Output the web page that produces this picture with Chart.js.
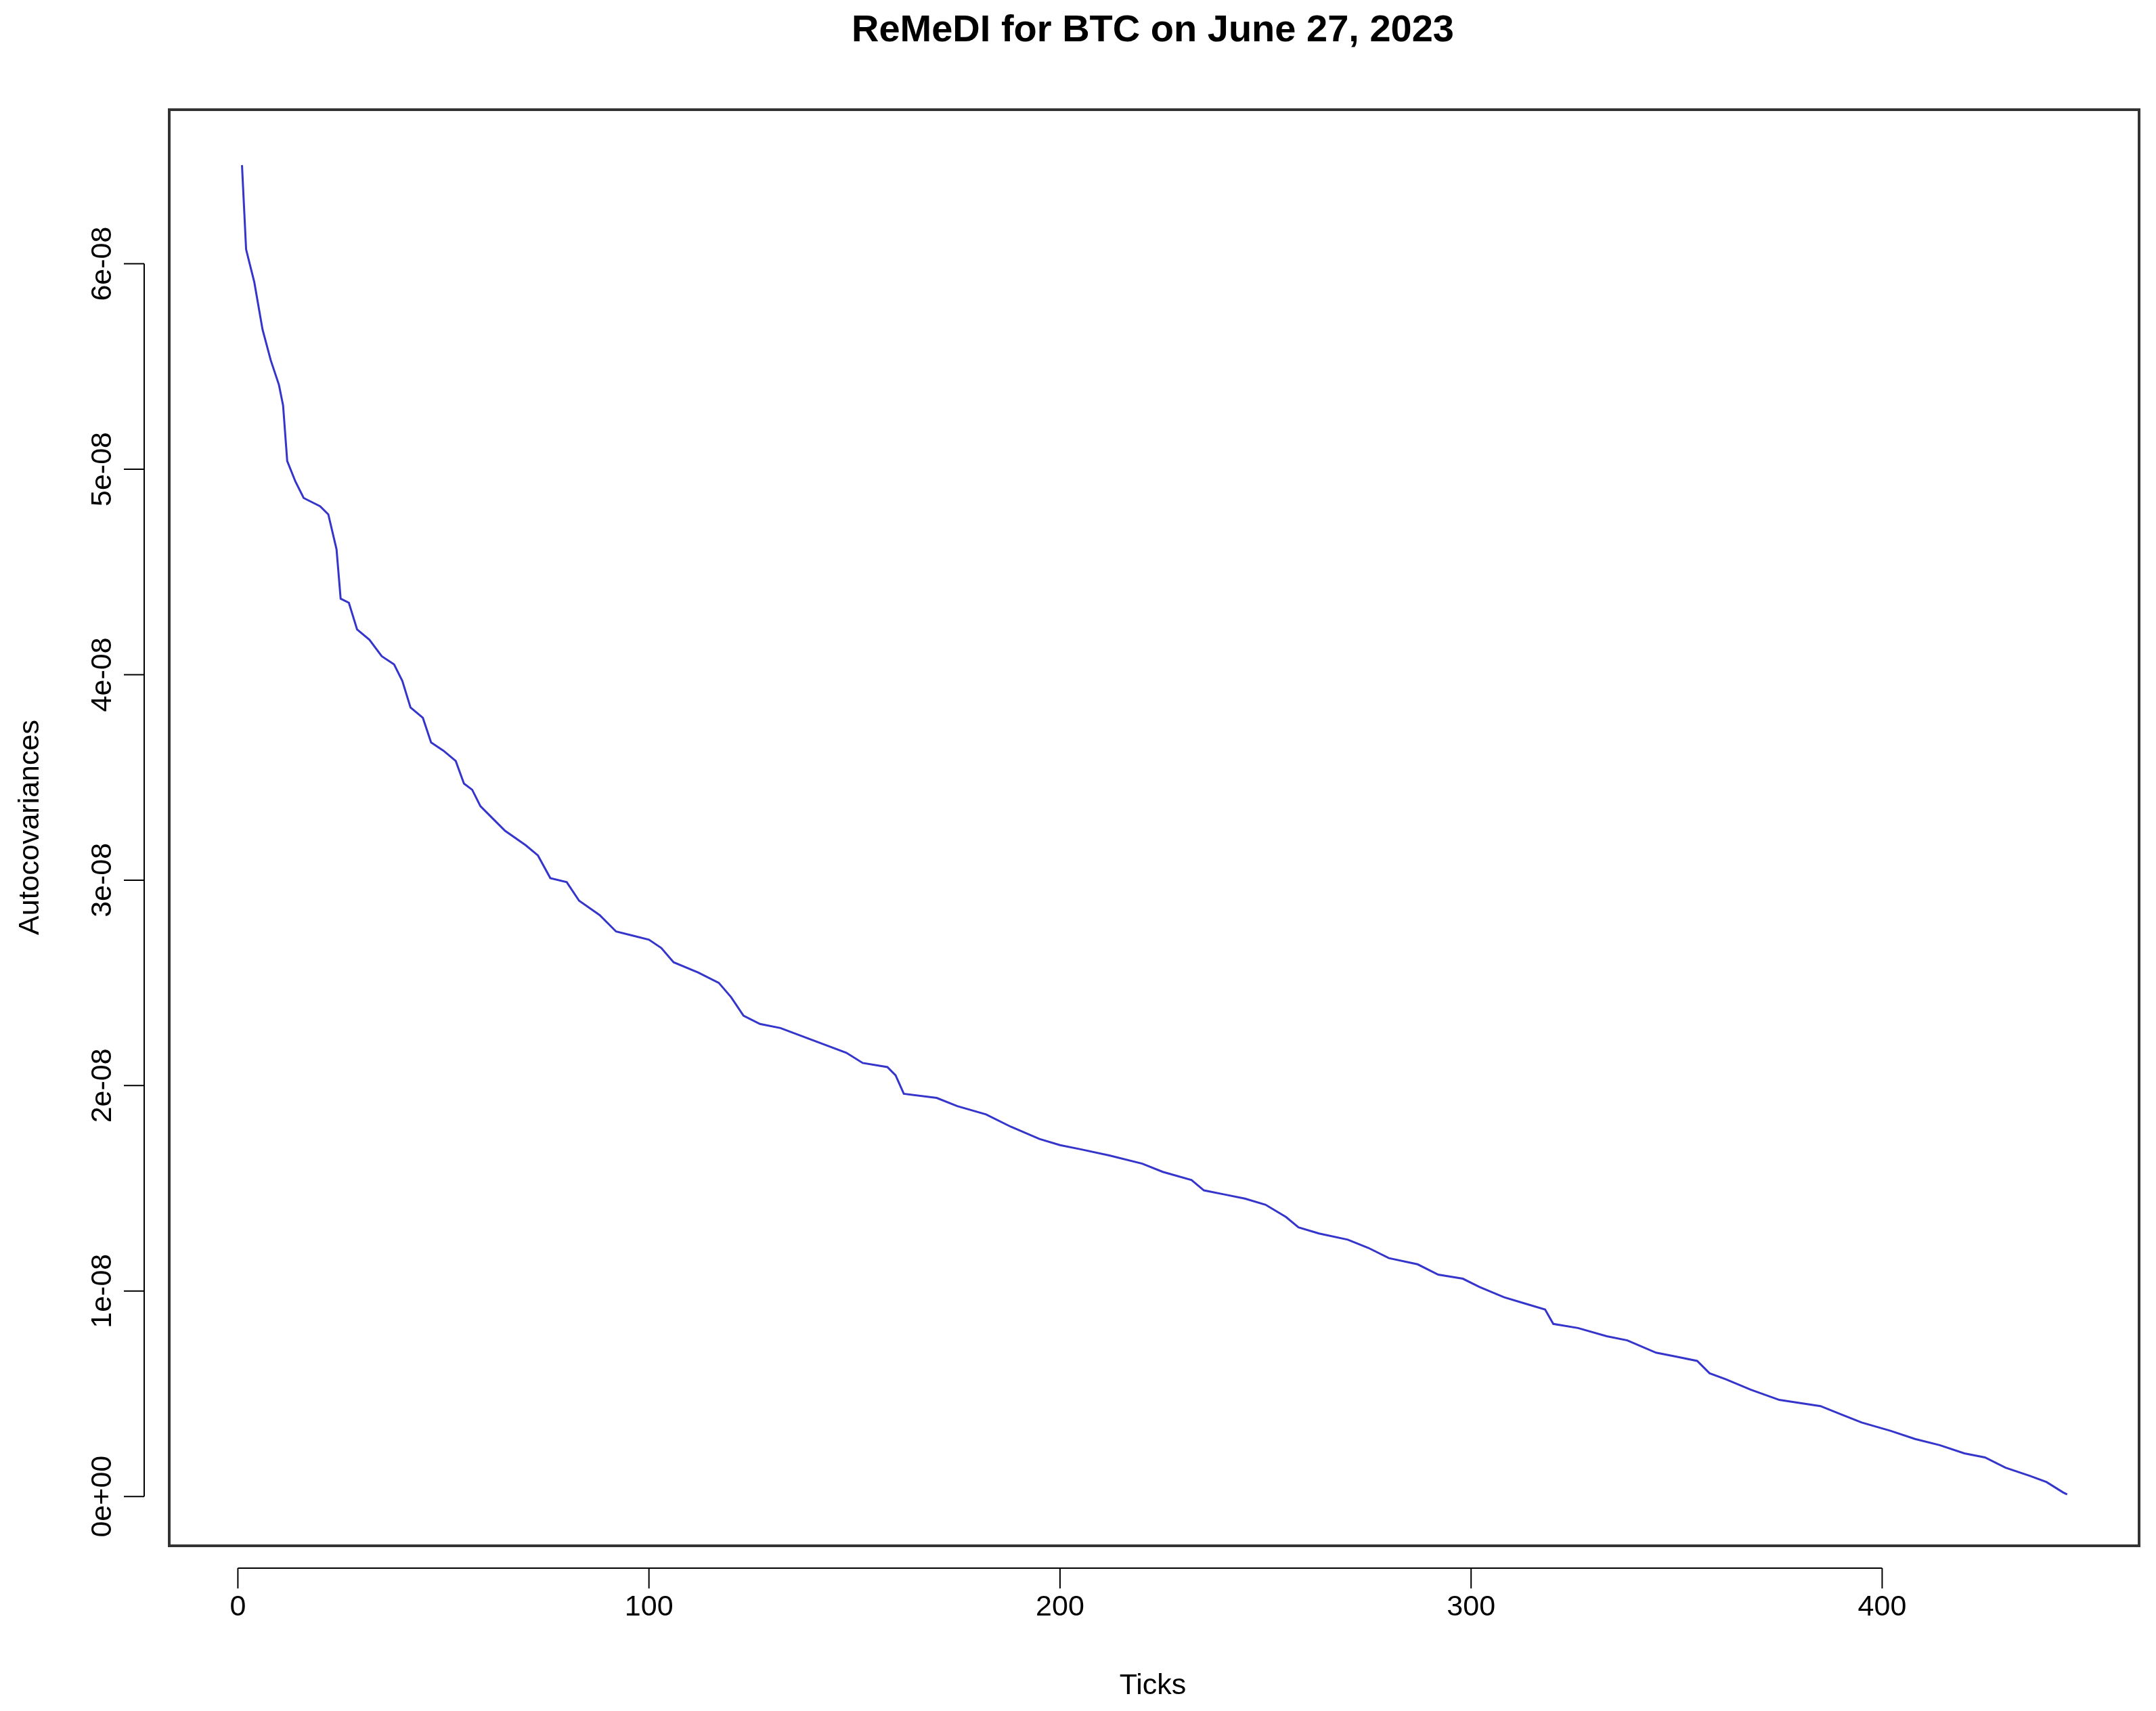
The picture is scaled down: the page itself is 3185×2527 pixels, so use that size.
<!DOCTYPE html>
<html><head><meta charset="utf-8">
<script src="https://cdn.jsdelivr.net/npm/chart.js@4"></script>
<style>html,body{margin:0;padding:0;background:#fff}canvas{display:block}</style>
</head><body>
<canvas id="c" width="3185" height="2527"></canvas>
<script>
const ticksX = [1,2,4,6,8,10,11,12,14,16,20,22,24,25,27,29,32,35,38,40,42,45,47,50,53,55,57,59,62,65,70,73,76,80,83,88,92,96,100,103,106,112,117,120,123,127,132,140,148,152,158,160,162,170,175,182,188,195,200,205,212,220,225,232,235,240,245,250,255,258,263,270,275,280,287,292,298,302,308,313,318,320,326,333,338,345,350,355,358,362,368,375,385,390,395,402,408,414,420,425,430,436,440,444,445];
const autocov = [6.48,6.07,5.91,5.68,5.53,5.41,5.31,5.04,4.94,4.86,4.82,4.78,4.61,4.37,4.35,4.22,4.17,4.09,4.05,3.97,3.84,3.79,3.67,3.63,3.58,3.47,3.44,3.36,3.30,3.24,3.17,3.12,3.01,2.99,2.90,2.83,2.75,2.73,2.71,2.67,2.60,2.55,2.50,2.43,2.34,2.30,2.28,2.22,2.16,2.11,2.09,2.05,1.96,1.94,1.90,1.86,1.80,1.74,1.71,1.69,1.66,1.62,1.58,1.54,1.49,1.47,1.45,1.42,1.36,1.31,1.28,1.25,1.21,1.16,1.13,1.08,1.06,1.02,0.97,0.94,0.91,0.84,0.82,0.78,0.76,0.70,0.68,0.66,0.60,0.57,0.52,0.47,0.44,0.40,0.36,0.32,0.28,0.25,0.21,0.19,0.14,0.10,0.07,0.02,0.01].map(v=>v*1e-8);
const xTickVals = [0,100,200,300,400];
const yTickVals = [0,1e-8,2e-8,3e-8,4e-8,5e-8,6e-8];
const yTickLabels = ["0e+00","1e-08","2e-08","3e-08","4e-08","5e-08","6e-08"];
const FONT = '"Liberation Sans", Arial, sans-serif';

const rAxes = {
  id:'rAxes',
  afterDraw(chart){
    const ctx = chart.ctx, a = chart.chartArea, xs = chart.scales.x, ys = chart.scales.y;
    ctx.save();
    ctx.strokeStyle = '#333'; ctx.lineWidth = 4;
    ctx.strokeRect(a.left, a.top, a.right-a.left, a.bottom-a.top);
    ctx.lineWidth = 2; ctx.strokeStyle='#000'; ctx.fillStyle='#000';
    const ay = 2316;
    ctx.beginPath();
    ctx.moveTo(xs.getPixelForValue(0), ay); ctx.lineTo(xs.getPixelForValue(400), ay);
    ctx.font = '43px '+FONT; ctx.textAlign='center'; ctx.textBaseline='middle';
    xTickVals.forEach(v=>{const p=xs.getPixelForValue(v); ctx.moveTo(p,ay); ctx.lineTo(p,ay+30); ctx.fillText(String(v),p,2374);});
    ctx.stroke();
    const ax = 213;
    ctx.beginPath();
    ctx.moveTo(ax, ys.getPixelForValue(0)); ctx.lineTo(ax, ys.getPixelForValue(6e-8));
    yTickVals.forEach((v,i)=>{const p=ys.getPixelForValue(v); ctx.moveTo(ax,p); ctx.lineTo(ax-30,p);
      ctx.save(); ctx.translate(152,p); ctx.rotate(-Math.PI/2); ctx.fillText(yTickLabels[i],0,0); ctx.restore();});
    ctx.stroke();
    ctx.fillText('Ticks', 1703, 2490);
    ctx.save(); ctx.translate(45,1222); ctx.rotate(-Math.PI/2); ctx.fillText('Autocovariances',0,0); ctx.restore();
    ctx.font = 'bold 56px '+FONT;
    ctx.fillText('ReMeDI for BTC on June 27, 2023', 1703, 46);
    ctx.restore();
  }
};

new Chart(document.getElementById('c'), {
  type:'scatter',
  data:{datasets:[{data:ticksX.map((x,i)=>({x, y:autocov[i]})), showLine:true, borderColor:'#3535cc', borderWidth:3, pointRadius:0, tension:0}]},
  options:{
    responsive:false, animation:false, devicePixelRatio:1,
    layout:{padding:{left:250,right:25,top:162,bottom:244}},
    plugins:{legend:{display:false},tooltip:{enabled:false},title:{display:false}},
    scales:{
      x:{type:'linear',min:-16.7,max:462.5,display:false},
      y:{type:'linear',min:-0.24e-8,max:6.75e-8,display:false}
    }
  },
  plugins:[rAxes]
});
</script>
</body></html>
